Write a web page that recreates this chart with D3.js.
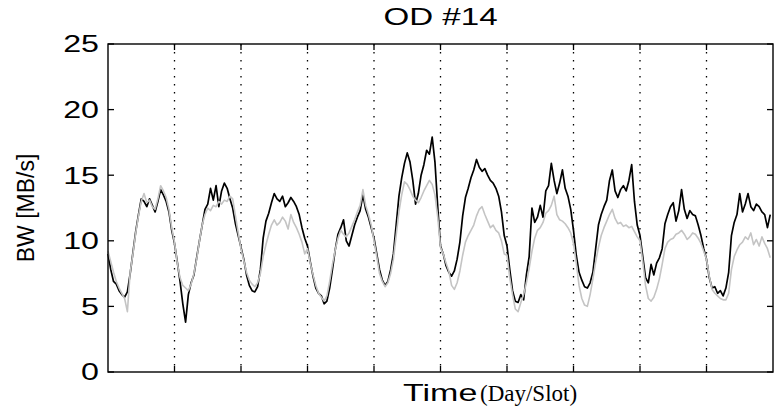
<!DOCTYPE html>
<html>
<head>
<meta charset="utf-8">
<title>OD #14</title>
<script src="https://cdnjs.cloudflare.com/ajax/libs/d3/7.8.5/d3.min.js"></script>
<style>
body { margin: 0; background: white; }
.frame { fill: none; stroke: black; stroke-width: 1.4; }
.tick-mark { stroke: black; stroke-width: 1.3; }
.daygrid { stroke: black; stroke-width: 1.3; stroke-dasharray: 1.5,6.5; }
.sans { font-family: "Liberation Sans", Arial, Helvetica, sans-serif; fill: black; }
.serif { font-family: "Liberation Serif", "Times New Roman", serif; fill: black; }
.series { fill: none; stroke-linejoin: round; }
</style>
</head>
<body>
<svg width="778" height="409"></svg>
<script>
// hourly bandwidth samples (MB/s), 24 slots per day, 10 days
var black = [
  9.0, 7.8, 6.9, 6.7, 6.2, 5.9, 5.7, 6.1, 7.5, 9.1, 10.7, 12.0, 13.2, 13.0, 12.6, 13.2, 12.7, 12.2, 13.0, 13.9, 13.5, 13.0, 12.2, 10.8,
  9.8, 8.4, 6.9, 5.2, 3.8, 5.9, 6.8, 7.4, 8.7, 10.0, 11.2, 12.4, 12.8, 14.0, 13.1, 14.2, 12.6, 13.8, 14.4, 14.0, 13.2, 12.5, 11.3, 10.4,
  9.5, 8.6, 7.4, 6.6, 6.2, 6.1, 6.5, 7.8, 10.2, 11.5, 12.1, 12.9, 13.6, 13.2, 13.0, 13.4, 12.6, 12.9, 13.3, 13.0, 12.6, 12.0, 11.0, 10.2,
  9.6, 8.4, 7.3, 6.4, 6.0, 5.8, 5.2, 5.4, 6.4, 7.8, 9.3, 10.5, 11.0, 11.6, 10.0, 9.6, 10.4, 11.2, 11.8, 12.3, 13.5, 12.4, 11.8, 11.0,
  10.2, 9.0, 7.8, 7.0, 6.6, 6.9, 7.8, 9.0, 11.2, 13.4, 14.8, 15.9, 16.7, 16.0, 14.6, 12.8, 13.6, 15.0, 15.8, 16.9, 16.6, 17.9, 16.0, 12.6,
  9.6, 9.0, 8.1, 7.6, 7.3, 7.7, 8.6, 9.9, 11.9, 13.3, 14.0, 14.8, 15.4, 16.2, 15.6, 15.3, 15.5, 15.0, 14.6, 14.4, 14.0, 13.4, 12.2, 10.4,
  9.6, 7.8, 6.2, 5.4, 5.3, 5.9, 5.5, 7.4, 8.8, 12.5, 11.4, 11.8, 12.7, 11.8, 13.8, 14.2, 15.9, 14.6, 13.6, 14.4, 15.4, 14.0, 13.4, 12.4,
  10.8, 8.9, 7.6, 7.0, 6.5, 6.4, 6.8, 7.6, 9.4, 11.2, 12.0, 12.6, 13.1, 14.6, 15.4, 13.8, 13.3, 13.9, 14.2, 13.8, 14.6, 15.8, 13.0, 11.2,
  10.4, 8.8, 7.2, 6.8, 8.2, 7.4, 8.3, 8.7, 9.4, 11.3, 12.0, 12.6, 12.9, 11.5, 12.3, 13.9, 12.4, 11.7, 12.3, 12.0, 11.9, 11.2, 10.4, 9.4,
  8.6, 7.2, 6.4, 6.5, 6.0, 6.2, 5.8, 6.4, 7.6, 10.4, 11.4, 12.0, 13.6, 12.2, 12.8, 13.6, 12.6, 12.3, 12.8, 12.6, 12.2, 12.0, 11.0, 12.0
];
var gray = [
  9.2, 8.4, 7.6, 6.9, 6.4, 6.0, 5.6, 4.6, 7.6, 9.0, 10.6, 11.9, 13.0, 13.6, 12.9, 13.1, 12.6, 12.4, 13.2, 14.2, 13.8, 13.3, 12.4, 11.0,
  9.9, 8.3, 7.2, 6.6, 6.4, 6.2, 6.7, 7.5, 8.6, 10.0, 11.2, 12.0, 12.5, 12.3, 12.7, 12.6, 13.0, 12.8, 13.1, 13.0, 13.4, 13.2, 11.9, 10.6,
  9.4, 8.5, 7.6, 7.0, 6.7, 6.5, 6.8, 7.5, 8.8, 9.7, 10.5, 11.2, 11.6, 11.2, 11.4, 11.8, 11.5, 10.9, 12.0, 11.4, 11.0, 10.5, 9.9, 9.0,
  9.4, 8.3, 7.4, 6.6, 6.0, 5.7, 5.4, 5.8, 6.9, 8.2, 9.3, 10.2, 10.8, 10.5, 10.3, 10.6, 11.1, 11.6, 12.2, 12.7, 13.9, 12.7, 12.0, 11.2,
  10.0, 8.8, 7.5, 6.9, 6.5, 6.8, 7.5, 8.6, 10.4, 12.2, 13.5, 14.5, 14.3, 13.9, 13.4, 13.1, 12.9, 13.3, 13.8, 14.2, 14.6, 14.3, 13.5, 11.8,
  9.5, 9.0, 8.3, 7.7, 6.6, 6.3, 6.8, 7.7, 8.9, 9.9, 10.4, 10.8, 11.2, 11.9, 12.4, 12.6, 12.0, 11.5, 11.0, 11.2, 10.8, 10.6, 10.0, 9.0,
  8.9, 7.2, 5.9, 4.8, 4.6, 5.3, 5.9, 6.8, 7.9, 9.2, 10.2, 10.8, 11.0, 11.4, 12.1, 12.3, 12.7, 13.4, 12.0, 11.6, 11.5, 11.3, 11.0, 10.6,
  9.8, 8.3, 6.6, 5.6, 5.1, 5.0, 5.9, 7.1, 8.4, 9.5, 10.4, 11.0, 11.5, 12.0, 12.4, 11.7, 11.3, 11.4, 11.1, 11.2, 11.0, 11.1, 10.7, 10.3,
  10.0, 8.4, 6.6, 5.6, 5.4, 5.7, 6.3, 7.1, 8.2, 9.4, 9.9, 10.1, 10.2, 10.5, 10.6, 10.8, 10.5, 10.1, 10.3, 10.6, 10.5, 10.2, 9.8, 9.2,
  8.6, 7.3, 6.3, 6.0, 5.8, 5.6, 5.5, 5.5, 6.0, 7.8, 8.8, 9.3, 9.7, 9.9, 10.3, 10.1, 10.6, 9.7, 10.1, 9.6, 10.3, 9.8, 9.4, 8.7
];
var slotsPerDay = 24;
var nDays = 10;
var yTicks = [0, 5, 10, 15, 20, 25];

var pArea = [108, 44, 773, 372]; // left, top, right, bottom
var x = d3.scaleLinear().domain([0, nDays]).range([pArea[0], pArea[2]]);
var y = d3.scaleLinear().domain([0, 25]).range([pArea[3], pArea[1]]);

var svg = d3.select("svg");
var g = svg.append("g");

// day separators
g.selectAll(".daygrid")
  .data(d3.range(1, nDays))
  .enter().append("line")
  .attr("class", "daygrid")
  .attr("x1", function (d) { return x(d); })
  .attr("x2", function (d) { return x(d); })
  .attr("y1", pArea[1])
  .attr("y2", pArea[3]);

// series
var line = d3.line()
  .x(function (d, i) { return x(i / slotsPerDay); })
  .y(function (d) { return y(d); });

g.append("path").datum(black)
  .attr("class", "series")
  .attr("stroke", "black")
  .attr("stroke-width", 1.7)
  .attr("d", line);
g.append("path").datum(gray)
  .attr("class", "series")
  .attr("stroke", "#c4c4c4")
  .attr("stroke-width", 1.6)
  .attr("d", line);

// box
g.append("rect")
  .attr("class", "frame")
  .attr("x", pArea[0])
  .attr("y", pArea[1])
  .attr("width", pArea[2] - pArea[0])
  .attr("height", pArea[3] - pArea[1]);

// inward ticks, MATLAB style
var tl = 6;
yTicks.forEach(function (v) {
  g.append("line").attr("class", "tick-mark")
    .attr("x1", pArea[0]).attr("x2", pArea[0] + tl)
    .attr("y1", y(v)).attr("y2", y(v));
  g.append("line").attr("class", "tick-mark")
    .attr("x1", pArea[2]).attr("x2", pArea[2] - tl)
    .attr("y1", y(v)).attr("y2", y(v));
});
d3.range(1, nDays).forEach(function (d) {
  g.append("line").attr("class", "tick-mark")
    .attr("x1", x(d)).attr("x2", x(d))
    .attr("y1", pArea[3]).attr("y2", pArea[3] - tl);
  g.append("line").attr("class", "tick-mark")
    .attr("x1", x(d)).attr("x2", x(d))
    .attr("y1", pArea[1]).attr("y2", pArea[1] + tl);
});

// wide helvetica look
function wideText(px, py, str, size, sx, anchor) {
  return g.append("g")
    .attr("transform", "translate(" + px + "," + py + ") scale(" + sx + ",1)")
    .append("text")
    .attr("class", "sans")
    .attr("font-size", size)
    .attr("text-anchor", anchor)
    .text(str);
}

yTicks.forEach(function (v) {
  wideText(99, y(v) + 8.3, v, 23, 1.4, "end");
});

wideText(x(nDays / 2), 25, "OD #14", 24, 1.38, "middle");
wideText(403, 401, "Time", 23, 1.48, "start");
g.append("text")
  .attr("class", "serif")
  .attr("x", 480)
  .attr("y", 401)
  .attr("font-size", 23)
  .text("(Day/Slot)");

g.append("text")
  .attr("class", "sans")
  .attr("font-size", 23)
  .attr("text-anchor", "middle")
  .attr("transform", "translate(34," + ((pArea[1] + pArea[3]) / 2) + ") rotate(-90)")
  .text("BW [MB/s]");
</script>
</body>
</html>
